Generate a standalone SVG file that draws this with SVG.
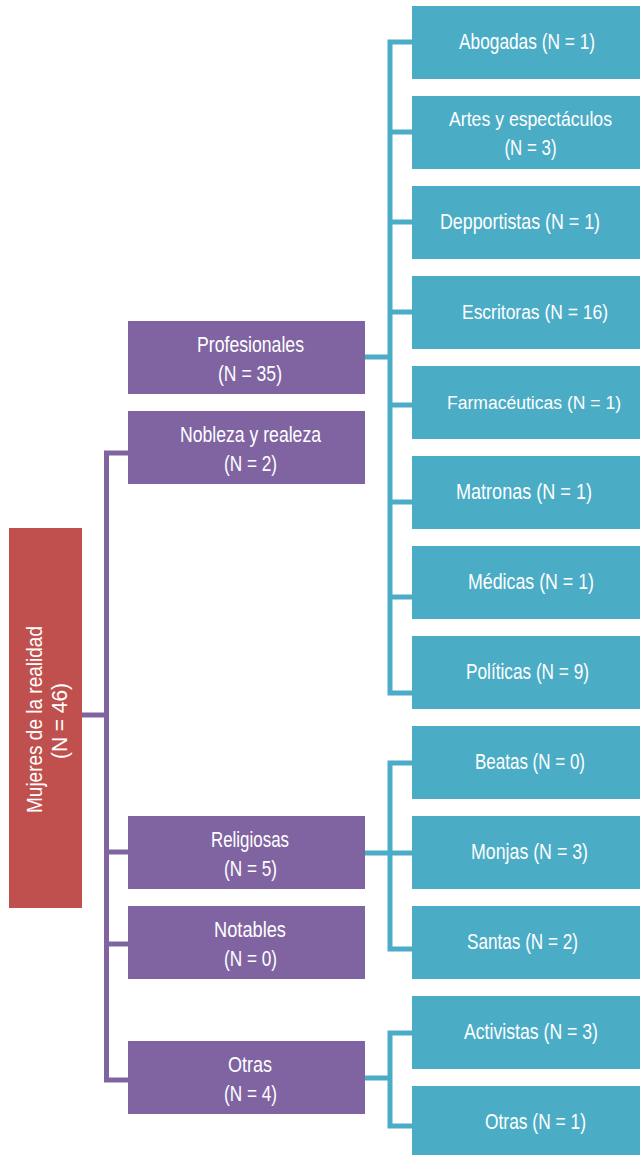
<svg xmlns="http://www.w3.org/2000/svg" width="640" height="1155" viewBox="0 0 640 1155">
<style>
.root{fill:#C0504D}
.mid{fill:#8064A2}
.leaf{fill:#4BACC6}
text{font-family:"Liberation Sans",Arial,sans-serif;font-size:22px;fill:#FFFFFF;text-anchor:middle}
text.s{font-size:20px}
text.xs{font-size:18px}
.cp{fill:none;stroke:#8064A2;stroke-width:5;stroke-linecap:square}
.ct{fill:none;stroke:#4BACC6;stroke-width:5;stroke-linecap:square}
</style>
<rect width="640" height="1155" fill="#FFFFFF"/>
<g id="connectors">
<path class="cp" d="M84,715H106.5M106.5,453V1080M106.5,453H126M106.5,852H126M106.5,944H126M106.5,1080H126"/>
<path class="ct" d="M367,357H390M390,42V693M390,42H410M390,132H410M390,222H410M390,312H410M390,405H410M390,502H410M390,597H410M390,693H410"/>
<path class="ct" d="M367,853H410M390,763V949M390,763H410M390,949H410"/>
<path class="ct" d="M367,1078H390M390,1033V1126M390,1033H410M390,1126H410"/>
</g>
<g id="root">
<rect class="root" x="9" y="528" width="73" height="380"/>
<text transform="translate(42,719.5) rotate(-90)" textLength="187" lengthAdjust="spacingAndGlyphs">Mujeres de la realidad</text>
<text transform="translate(67,721) rotate(-90)" textLength="76" lengthAdjust="spacingAndGlyphs">(N = 46)</text>
</g>
<g id="profesionales">
<rect class="mid" x="128" y="321" width="237" height="73"/>
<text x="250.5" y="351.5" textLength="107" lengthAdjust="spacingAndGlyphs">Profesionales</text>
<text x="250" y="381" textLength="64" lengthAdjust="spacingAndGlyphs">(N = 35)</text>
</g>
<g id="nobleza">
<rect class="mid" x="128" y="411" width="237" height="73"/>
<text x="250.5" y="441.5" textLength="141" lengthAdjust="spacingAndGlyphs">Nobleza y realeza</text>
<text x="250.5" y="471" textLength="53" lengthAdjust="spacingAndGlyphs">(N = 2)</text>
</g>
<g id="religiosas">
<rect class="mid" x="128" y="816" width="237" height="73"/>
<text x="250" y="846.5" textLength="78" lengthAdjust="spacingAndGlyphs">Religiosas</text>
<text x="250.5" y="876" textLength="53" lengthAdjust="spacingAndGlyphs">(N = 5)</text>
</g>
<g id="notables">
<rect class="mid" x="128" y="906" width="237" height="73"/>
<text x="250" y="936.5" textLength="72" lengthAdjust="spacingAndGlyphs">Notables</text>
<text x="250.5" y="966" textLength="53" lengthAdjust="spacingAndGlyphs">(N = 0)</text>
</g>
<g id="otras-grupo">
<rect class="mid" x="128" y="1041" width="237" height="73"/>
<text x="250" y="1071.5" textLength="44" lengthAdjust="spacingAndGlyphs">Otras</text>
<text x="250.5" y="1101" textLength="53" lengthAdjust="spacingAndGlyphs">(N = 4)</text>
</g>
<g id="abogadas">
<rect class="leaf" x="412" y="6" width="228" height="73"/>
<text x="527" y="48.5" textLength="136" lengthAdjust="spacingAndGlyphs">Abogadas (N = 1)</text>
</g>
<g id="artes">
<rect class="leaf" x="412" y="96" width="228" height="73"/>
<text class="s" x="530.5" y="126" textLength="163" lengthAdjust="spacingAndGlyphs">Artes y espectáculos</text>
<text x="530.5" y="155" textLength="52" lengthAdjust="spacingAndGlyphs">(N = 3)</text>
</g>
<g id="depportistas">
<rect class="leaf" x="412" y="186" width="228" height="73"/>
<text x="520" y="228.5" textLength="160" lengthAdjust="spacingAndGlyphs">Depportistas (N = 1)</text>
</g>
<g id="escritoras">
<rect class="leaf" x="412" y="276" width="228" height="73"/>
<text class="s" x="535" y="318.5" textLength="146" lengthAdjust="spacingAndGlyphs">Escritoras (N = 16)</text>
</g>
<g id="farmaceuticas">
<rect class="leaf" x="412" y="366" width="228" height="73"/>
<text class="xs" x="534" y="408.5" textLength="174" lengthAdjust="spacingAndGlyphs">Farmacéuticas (N = 1)</text>
</g>
<g id="matronas">
<rect class="leaf" x="412" y="456" width="228" height="73"/>
<text x="524" y="498.5" textLength="136" lengthAdjust="spacingAndGlyphs">Matronas (N = 1)</text>
</g>
<g id="medicas">
<rect class="leaf" x="412" y="546" width="228" height="73"/>
<text x="531" y="588.5" textLength="126" lengthAdjust="spacingAndGlyphs">Médicas (N = 1)</text>
</g>
<g id="politicas">
<rect class="leaf" x="412" y="636" width="228" height="73"/>
<text x="527.5" y="678.5" textLength="123" lengthAdjust="spacingAndGlyphs">Políticas (N = 9)</text>
</g>
<g id="beatas">
<rect class="leaf" x="412" y="726" width="228" height="73"/>
<text x="530" y="768.5" textLength="110" lengthAdjust="spacingAndGlyphs">Beatas (N = 0)</text>
</g>
<g id="monjas">
<rect class="leaf" x="412" y="816" width="228" height="73"/>
<text x="529.5" y="858.5" textLength="117" lengthAdjust="spacingAndGlyphs">Monjas (N = 3)</text>
</g>
<g id="santas">
<rect class="leaf" x="412" y="906" width="228" height="73"/>
<text x="522.5" y="948.5" textLength="111" lengthAdjust="spacingAndGlyphs">Santas (N = 2)</text>
</g>
<g id="activistas">
<rect class="leaf" x="412" y="996" width="228" height="73"/>
<text x="531" y="1038.5" textLength="134" lengthAdjust="spacingAndGlyphs">Activistas (N = 3)</text>
</g>
<g id="otras">
<rect class="leaf" x="412" y="1086" width="228" height="69"/>
<text x="535.5" y="1128.5" textLength="101" lengthAdjust="spacingAndGlyphs">Otras (N = 1)</text>
</g>
</svg>
